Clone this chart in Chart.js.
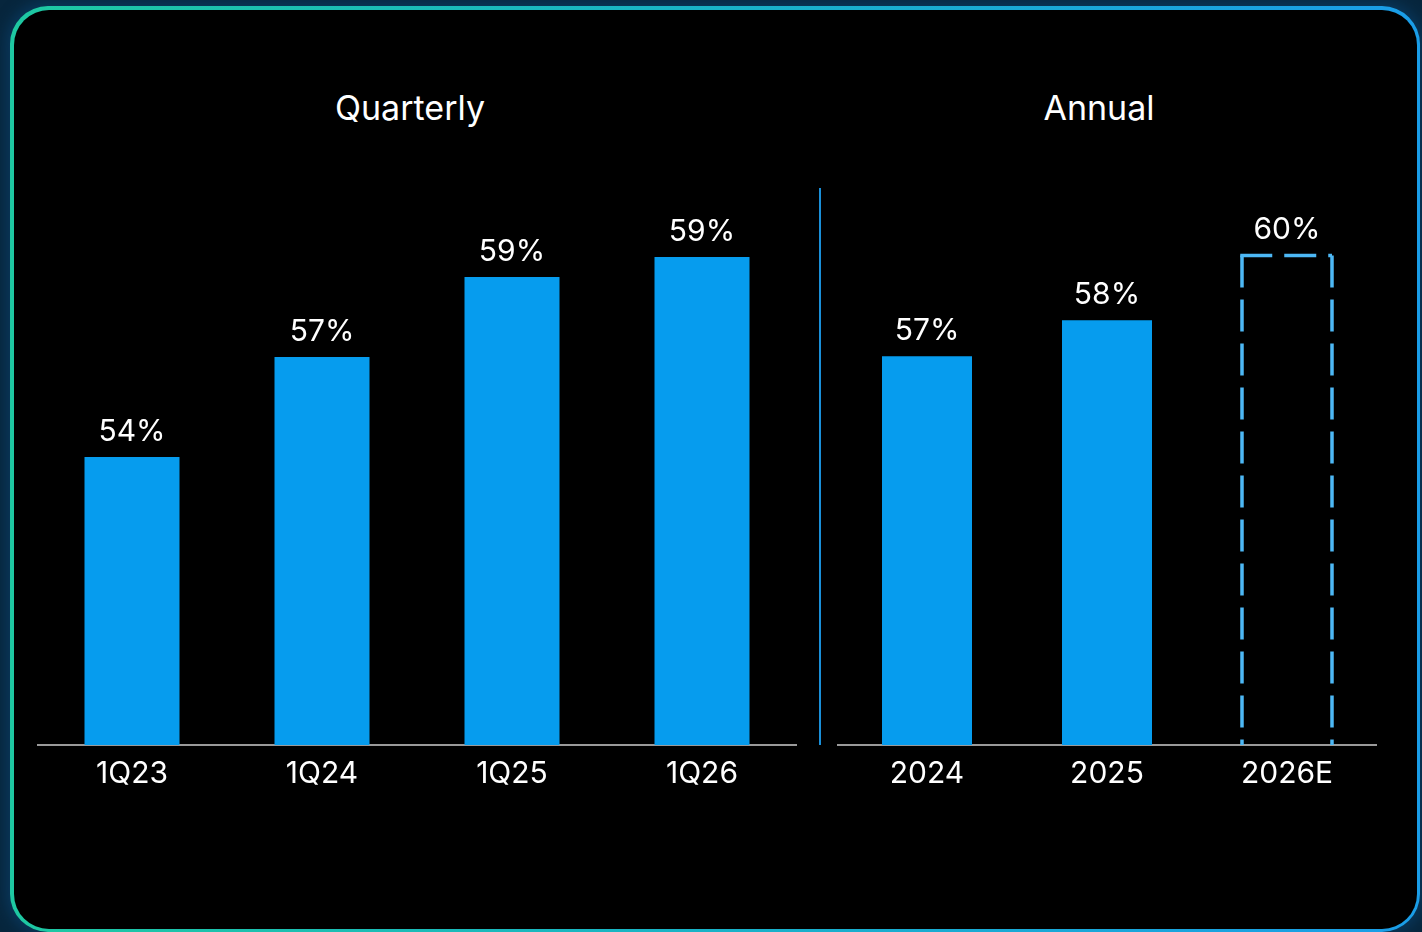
<!DOCTYPE html>
<html>
<head>
<meta charset="utf-8">
<script src="https://cdn.jsdelivr.net/npm/chart.js@4.4.1/dist/chart.umd.min.js"></script>
<style>
  html, body { margin:0; padding:0; width:1422px; height:932px; overflow:hidden; background:#07263d; }
  #frame { position:absolute; left:10px; top:6px; width:1410px; height:926px; border-radius:38px;
           background:linear-gradient(90deg,#1ec8a2 0%,#19b4c4 45%,#1a9de8 100%); box-shadow:0 0 14px 4px rgba(10,60,100,0.8); }
  #inner { position:absolute; left:3.5px; top:3.5px; right:3.5px; bottom:3.5px; border-radius:35px; background:#000; }
  .title { position:absolute; top:87px; color:#fff; font-family:'Inter','Lato',sans-serif; font-size:34px; transform:translateX(-50%); white-space:nowrap; }
  #divider { position:absolute; left:819px; top:188px; width:2px; height:557px; background:#1a8fd8; }
  canvas { position:absolute; }
</style>
</head>
<body>
<div id="frame"><div id="inner"></div></div>
<div class="title" style="left:410px;">Quarterly</div>
<div class="title" style="left:1099px;">Annual</div>
<div id="divider"></div>
<div id="qwrap" style="position:absolute;left:37px;top:150px;width:760px;height:655px;"><canvas id="q"></canvas></div>
<div id="awrap" style="position:absolute;left:837px;top:150px;width:540px;height:655px;"><canvas id="a"></canvas></div>
<script>
const quarterlyCategories = ['1Q23','1Q24','1Q25','1Q26'];
const quarterlyValues = [54.2, 56.7, 58.7, 59.2];
const quarterlyLabels = ['54%','57%','59%','59%'];

const annualCategories = ['2024','2025','2026E'];
const annualValues = [56.8, 57.8, 59.6];
const annualLabels = ['57%','58%','60%'];
const annualEstimate = [false, false, true];

const FONT = "'Inter','Lato',sans-serif";
const BAR = '#069cee';
const DASH = '#4db8f5';

function makeChart(id, cats, vals, labels, est, yMin, yMax) {
  const labelPlugin = {
    id: 'lbl' + id,
    afterDatasetsDraw(chart) {
      const ctx = chart.ctx;
      const meta = chart.getDatasetMeta(0);
      const bottom = chart.chartArea.bottom;
      ctx.save();
      meta.data.forEach((bar, i) => {
        if (est && est[i]) {
          const half = bar.width / 2;
          const l = bar.x - half, r = bar.x + half, t = bar.y;
          ctx.strokeStyle = DASH;
          ctx.lineWidth = 3.5;
          ctx.setLineDash([32, 12]);
          [[l, t, l, bottom], [l - 1.75, t, r, t], [r, t, r, bottom]].forEach(s => {
            ctx.beginPath();
            ctx.moveTo(s[0], s[1]);
            ctx.lineTo(s[2], s[3]);
            ctx.stroke();
          });
          ctx.setLineDash([]);
        }
        ctx.fillStyle = '#ffffff';
        ctx.font = '30px ' + FONT;
        ctx.textAlign = 'center';
        ctx.textBaseline = 'alphabetic';
        ctx.fillText(labels[i], bar.x, bar.y - 16);
      });
      ctx.restore();
    }
  };
  return new Chart(document.getElementById(id), {
    type: 'bar',
    data: {
      labels: cats,
      datasets: [{
        data: vals,
        backgroundColor: vals.map((v, i) => (est && est[i]) ? 'rgba(0,0,0,0)' : BAR),
        borderWidth: 0,
        barPercentage: 0.5,
        categoryPercentage: 1.0
      }]
    },
    options: {
      responsive: true,
      maintainAspectRatio: false,
      animation: false,
      layout: { padding: 0 },
      plugins: { legend: { display: false }, tooltip: { enabled: false } },
      scales: {
        x: {
          grid: { display: false, drawTicks: false },
          border: { display: true, color: '#9a9a9a', width: 2 },
          ticks: { color: '#ffffff', font: { family: FONT, size: 30 }, padding: 11 },
          afterFit(scale) { scale.height = 60; }
        },
        y: { display: false, min: yMin, max: yMax }
      }
    },
    plugins: [labelPlugin]
  });
}

makeChart('q', quarterlyCategories, quarterlyValues, quarterlyLabels, null, 47, 47 + 595 / 40);
makeChart('a', annualCategories, annualValues, annualLabels, annualEstimate, 46, 46 + 595 / 36);
</script>
</body>
</html>
